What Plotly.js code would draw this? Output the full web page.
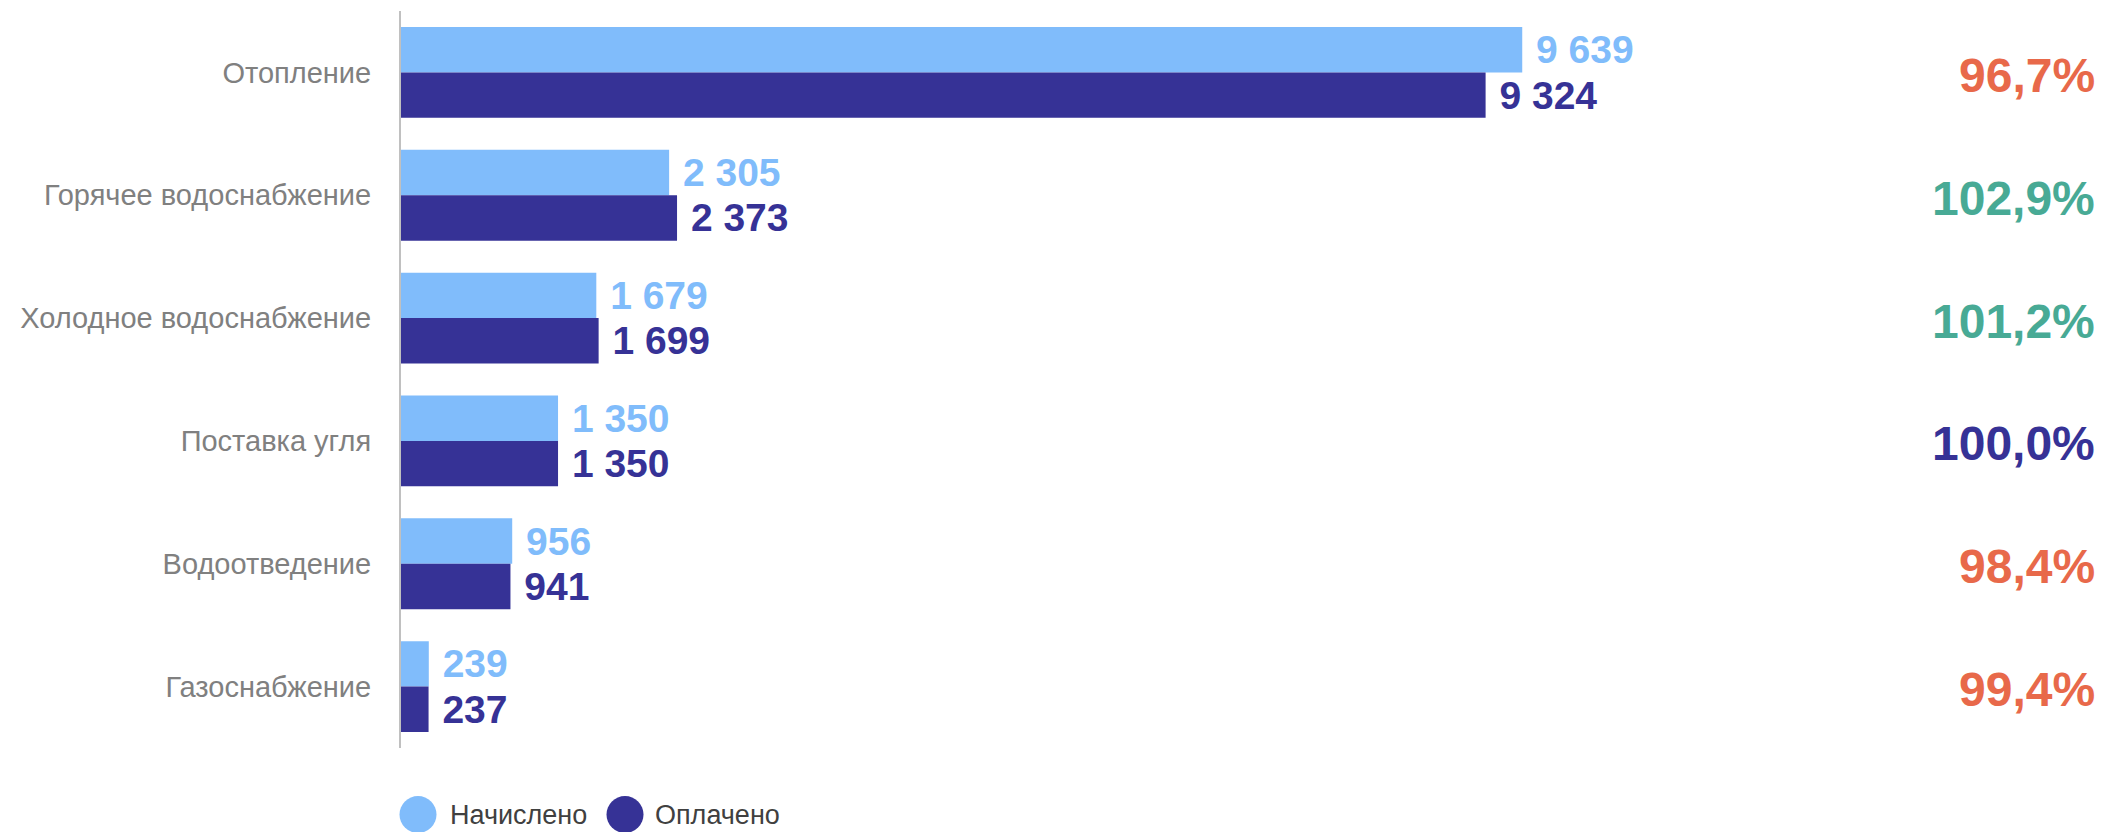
<!DOCTYPE html>
<html>
<head>
<meta charset="utf-8">
<script src="https://cdn.plot.ly/plotly-3.0.1.min.js"></script>
<style>html,body{margin:0;padding:0;background:#fff;}#chart{width:2105px;height:832px;}</style>
</head>
<body>
<div id="chart"></div>
<script>
const categories = ["Отопление", "Горячее водоснабжение", "Холодное водоснабжение", "Поставка угля", "Водоотведение", "Газоснабжение"];
const accrued = [9639, 2305, 1679, 1350, 956, 239];
const paid = [9324, 2373, 1699, 1350, 941, 237];
const percentLabels = [96.7, 102.9, 101.2, 100.0, 98.4, 99.4];
const seriesNames = ["Начислено", "Оплачено"];

const LIGHT = "#80BCFB";
const DARK = "#363296";
const ORANGE = "#E8694A";
const TEAL = "#48AA95";
const NARROW = "'Liberation Sans Narrow', 'Arial Narrow', 'Liberation Sans', Arial, sans-serif";

function pctColor(v) { return v > 100 ? TEAL : (v < 100 ? ORANGE : DARK); }
function fmtPct(v) { return v.toFixed(1).replace('.', ',') + '%'; }

const traces = [
  {type: 'bar', orientation: 'h', name: seriesNames[0], y: categories, x: accrued,
   marker: {color: LIGHT}, texttemplate: '\u00A0%{x:,}', textposition: 'outside',
   textfont: {family: NARROW, size: 39, color: LIGHT, weight: 'bold'}, constraintext: 'none',
   cliponaxis: false, hoverinfo: 'x+y', showlegend: false},
  {type: 'bar', orientation: 'h', name: seriesNames[1], y: categories, x: paid,
   marker: {color: DARK}, texttemplate: '\u00A0%{x:,}', textposition: 'outside',
   textfont: {family: NARROW, size: 39, color: DARK, weight: 'bold'}, constraintext: 'none',
   cliponaxis: false, hoverinfo: 'x+y', showlegend: false}
];

const annotations = categories.map((c, i) => ({
  xref: 'paper', yref: 'y', x: 1, y: c, xanchor: 'right', yanchor: 'middle', yshift: -3,
  text: '<b>' + fmtPct(percentLabels[i]) + '</b>', showarrow: false,
  font: {family: NARROW, size: 48, color: pctColor(percentLabels[i])}
}));

const legendColors = [LIGHT, DARK];
const legendCircleOffsets = [-1.5, 205.5];
const legendTextOffsets = [47, 252];
const shapes = [];
seriesNames.forEach((n, i) => {
  shapes.push({type: 'circle', xref: 'paper', yref: 'paper', xsizemode: 'pixel', ysizemode: 'pixel',
    xanchor: 0, yanchor: 0, x0: legendCircleOffsets[i], x1: legendCircleOffsets[i] + 37, y0: -85, y1: -48,
    fillcolor: legendColors[i], line: {width: 0}});
  annotations.push({xref: 'paper', yref: 'paper', x: 0, y: 0, xanchor: 'left', yanchor: 'middle',
    xshift: legendTextOffsets[i], yshift: -66.5, text: n, showarrow: false,
    font: {family: "'Liberation Sans', Arial, sans-serif", size: 27, color: '#404040'}});
});

const layout = {
  width: 2105, height: 832,
  margin: {l: 401, r: 8, t: 11, b: 84},
  paper_bgcolor: '#fff', plot_bgcolor: '#fff',
  separators: ', ',
  barmode: 'group', bargap: 0.26, bargroupgap: 0,
  showlegend: false,
  xaxis: {range: [0, 14580], showgrid: false, zeroline: false, showticklabels: false, showline: false, fixedrange: true},
  yaxis: {type: 'category', autorange: 'reversed', showgrid: false, zeroline: false,
    showline: true, linecolor: '#c0c0c0', linewidth: 2, ticks: '', ticklabelstandoff: 22,
    tickfont: {family: NARROW, size: 29, color: '#808080'}, fixedrange: true},
  annotations: annotations,
  shapes: shapes
};

Plotly.newPlot('chart', traces, layout, {displayModeBar: false, staticPlot: true});
</script>
</body>
</html>
